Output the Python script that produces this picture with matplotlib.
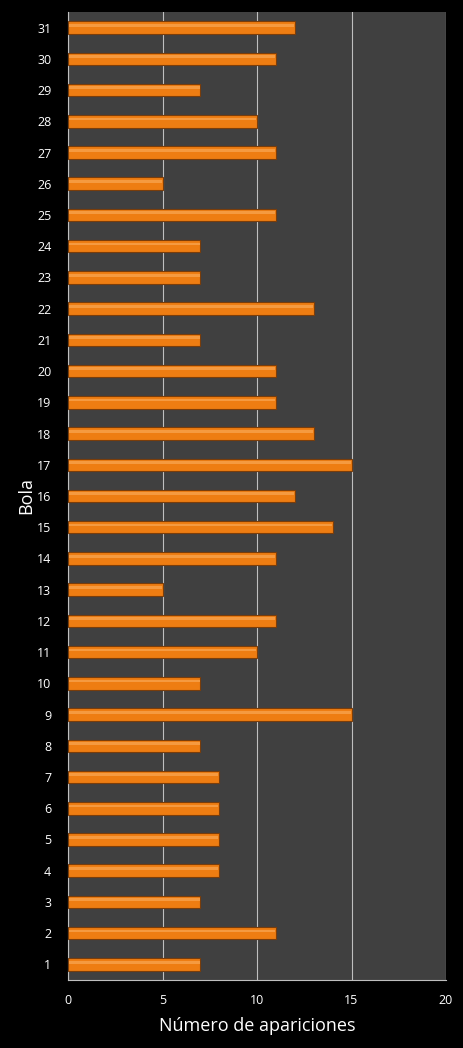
import matplotlib
matplotlib.use("Agg")
import matplotlib.pyplot as plt
import numpy as np

bolas = list(range(1, 32))
apariciones = [7, 11, 7, 8, 8, 8, 8, 7, 15, 7, 10, 11, 5, 11, 14, 12, 15, 13, 11, 11,
               7, 13, 7, 7, 11, 5, 11, 10, 7, 11, 12]
x_ticks = [0, 5, 10, 15, 20]

plt.rcParams['font.family'] = ['Open Sans', 'DejaVu Sans']

fig = plt.figure(figsize=(4.63, 10.48), dpi=100, facecolor='black')
ax = fig.add_axes([68/463, 1-980/1048, (446-68)/463, (980-12)/1048])
ax.set_facecolor('#404040')

h = 0.40
ax.barh(bolas, apariciones, height=h, color='#EE7D12', edgecolor='#7A3D0A', linewidth=0.8, zorder=3)
# highlight stripe for 3D look
ax.barh(np.array(bolas) + h*0.18, np.array(apariciones) - 0.08, height=h*0.22, left=0.04,
        color='#F59A40', linewidth=0, zorder=4)

ax.set_xlim(0, 20)
ax.set_ylim(0.5, 31.5)
ax.set_xticks(x_ticks)
ax.set_yticks(bolas)
ax.tick_params(colors='white', labelsize=9, length=0)
ax.tick_params(axis='y', pad=12)
ax.tick_params(axis='x', pad=10)
for t in ax.get_xticklabels() + ax.get_yticklabels():
    t.set_color('white')
ax.grid(axis='x', color='#BFBFBF', linewidth=0.8, zorder=1)
ax.set_axisbelow(True)
for s in ['top', 'right']:
    ax.spines[s].set_visible(False)
for s in ['left', 'bottom']:
    ax.spines[s].set_color('#BFBFBF')
    ax.spines[s].set_linewidth(0.8)

ax.set_xlabel('Número de apariciones', color='white', fontsize=13, labelpad=7)
ax.set_ylabel('Bola', color='white', fontsize=13, labelpad=1)

fig.savefig('out.png', dpi=100, facecolor='black')
